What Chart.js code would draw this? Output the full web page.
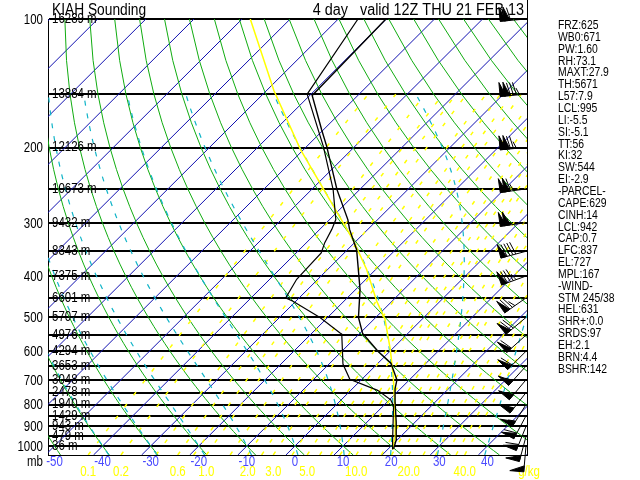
<!DOCTYPE html>
<html>
<head>
<meta charset="utf-8">
<script src="https://cdn.jsdelivr.net/npm/chart.js@4.4.1/dist/chart.umd.min.js"></script>
<style>
  body { margin: 0; background: #fff; }
  canvas { display: block; }
</style>
</head>
<body>
<canvas id="skewT" width="640" height="480"></canvas>
<script>
// sounding levels (mb) and their heights
const levels = [100, 150, 200, 250, 300, 350, 400, 450, 500, 550, 600, 650, 700, 750, 800, 850, 900, 950, 1000];
const heights = [16289, 13884, 12126, 10673, 9432, 8343, 7375, 6601, 5707, 4976, 4294, 3653, 3048, 2478, 1940, 1429, 943, 479, 36];
const windDir = [265, 265, 265, 262, 262, 255, 250, 235, 230, 228, 225, 222, 220, 218, 212, 208, 202, 195, 185];
const windSpd = [110, 135, 125, 115, 105, 90, 85, 75, 70, 60, 60, 55, 55, 55, 55, 60, 60, 55, 50];

// temperature, dewpoint and parcel traces
const tempP = [1016, 965, 880, 790, 735, 700, 640, 600, 545, 500, 430, 347, 311, 295, 251, 199, 182, 151, 100];
const tempT = [21.1, 19.7, 16.1, 11.7, 8.9, 7.4, 2.7, -2.5, -9.4, -13.6, -19.1, -28.1, -33.8, -36.2, -44.7, -55.8, -60.3, -69.5, -70.1];
const dewP = [1016, 980, 805, 780, 741, 698, 643, 547, 543, 500, 458, 450, 407, 353, 334, 311, 295, 251, 199, 150, 100];
const dewT = [20.8, 19.5, 12.1, 10.3, 5.6, -2.5, -7.1, -13.6, -14.3, -21.6, -30.6, -32.8, -34.4, -34.8, -36.2, -37.5, -38.7, -45.5, -56.5, -70.8, -75.9];
const parcelP = [1016, 1000, 946, 820, 685, 593, 505, 458, 386, 329, 202, 147, 100];
const parcelT = [21.1, 20.4, 18.7, 13.1, 5.8, -0.4, -7.7, -13.2, -21.9, -30.9, -60.7, -78.5, -98.3];

// axis labels
const tempTicks = [-50, -40, -30, -20, -10, 0, 10, 20, 30, 40];
const mixRatios = [0.1, 0.2, 0.4, 0.6, 0.8, 1, 1.5, 2, 2.5, 3, 4, 5, 6, 7, 8, 9, 10, 12, 14, 16, 18, 20, 24, 28, 32, 36, 40];
const mixLabels = ["0.1", "0.2", "0.6", "1.0", "2.0", "3.0", "5.0", "10.0", "20.0", "40.0"];

const stats = ["FRZ:625", "WB0:671", "PW:1.60", "RH:73.1", "MAXT:27.9", "TH:5671", "L57:7.9", "LCL:995",
  "LI:-5.5", "SI:-5.1", "TT:56", "KI:32", "SW:544", "EI:-2.9", "-PARCEL-", "CAPE:629", "CINH:14",
  "LCL:942", "CAP:0.7", "LFC:837", "EL:727", "MPL:167", "-WIND-", "STM 245/38", "HEL:631",
  "SHR+:0.0", "SRDS:97", "EH:2.1", "BRN:4.4", "BSHR:142"];

const SKEW = 89;
const PBOT = 1050, PTOP = 100;
const FONT = '"Liberation Sans", Arial, sans-serif';

function skewX(t, p) {
  return t + SKEW * Math.log10(1000 / p);
}

function satVap(tc) {
  return 6.112 * Math.exp(17.67 * tc / (tc + 243.5));
}

function mixTemp(w, p) {
  const e = w * p / (622 + w);
  const l = Math.log(e / 6.112);
  return 243.5 * l / (17.67 - l);
}

function pressureSteps(from, to, step) {
  const out = [];
  for (let p = from; p >= to; p -= step) out.push(p);
  return out;
}

function lineSet(points, color, dash, width, order) {
  return {
    data: points, showLine: true, borderColor: color, borderWidth: width || 1,
    borderDash: dash || [], pointRadius: 0, fill: false, tension: 0, order: order
  };
}

function moistPoints(t1000) {
  // pseudo-adiabatic lapse rate, integrated away from 1000 mb
  const Rd = 287.04, Cp = 1005.7, Lv = 2.501e6, eps = 0.622;
  const rate = (tk, p) => {
    const es = satVap(tk - 273.15);
    const rs = eps * es / (p - es);
    return (Rd * tk + Lv * rs) / (p * (Cp + Lv * Lv * rs * eps / (Rd * tk * tk)));
  };
  const pts = [];
  let tk = t1000 + 273.15;
  for (let p = 1000; p < PBOT; p += 1) tk += rate(tk, p);
  for (let p = PBOT; p >= 150; p -= 1) {
    if (p % 10 === 0) pts.push({ x: skewX(tk - 273.15, p), y: p });
    tk -= rate(tk, p);
  }
  return pts;
}

const datasets = [];

for (let t = -140; t <= 50; t += 10) {
  datasets.push(lineSet([{ x: skewX(t, PBOT), y: PBOT }, { x: skewX(t, PTOP), y: PTOP }], "#1010b0", null, 1, 40));
}
for (let t = -60; t <= 170; t += 10) {
  const pts = pressureSteps(PBOT, PTOP, 25).map(p => {
    const tk = (t + 273.15) * Math.pow(p / 1000, 0.2857) - 273.15;
    return { x: skewX(tk, p), y: p };
  });
  datasets.push(lineSet(pts, "#10ac10", null, 1, 30));
}
for (let t = -40; t <= 40; t += 10) {
  datasets.push(lineSet(moistPoints(t), "#10b4c8", [5, 8], 1.2, 20));
}
mixRatios.forEach(w => {
  const pts = pressureSteps(PBOT, 150, 50).map(p => ({ x: skewX(mixTemp(w, p), p), y: p }));
  datasets.push(lineSet(pts, "#ffff00", [4, 11], 1.5, 25));
});

const toPts = (ps, ts) => ps.map((p, i) => ({ x: skewX(ts[i], p), y: p }));
datasets.push(lineSet(toPts(parcelP, parcelT), "#ffff00", null, 1.5, 3));
datasets.push(lineSet(toPts(dewP, dewT), "#000000", null, 1.2, 1));
datasets.push(lineSet(toPts(tempP, tempT), "#000000", null, 1.4, 1));

// text squeezed horizontally to mimic the narrow plotter font
function narrowText(ctx, text, x, y, align, sx) {
  ctx.save();
  ctx.translate(x, y);
  ctx.scale(sx, 1);
  ctx.textAlign = align;
  ctx.fillText(text, 0, 0);
  ctx.restore();
}

function drawBarb(ctx, x0, y0, dir, spd) {
  const rad = dir * Math.PI / 180;
  const ux = Math.sin(rad), uy = -Math.cos(rad);
  const px = -uy, py = ux;
  const L = 26;
  ctx.beginPath();
  ctx.moveTo(x0, y0);
  ctx.lineTo(x0 + ux * L, y0 + uy * L);
  ctx.stroke();
  let rem = Math.round(spd / 5) * 5;
  let pos = L;
  while (rem >= 50) {
    const bx = x0 + ux * pos, by = y0 + uy * pos;
    const cx = x0 + ux * (pos - 6), cy = y0 + uy * (pos - 6);
    ctx.beginPath();
    ctx.moveTo(bx, by);
    ctx.lineTo(bx + px * 14, by + py * 14);
    ctx.lineTo(cx, cy);
    ctx.closePath();
    ctx.fill();
    ctx.stroke();
    pos -= 4;
    rem -= 50;
  }
  if (pos < L) pos -= 2.5;
  while (rem >= 5) {
    const len = rem >= 10 ? 13 : 7;
    const bx = x0 + ux * pos, by = y0 + uy * pos;
    ctx.beginPath();
    ctx.moveTo(bx, by);
    ctx.lineTo(bx + px * len + ux * 3, by + py * len + uy * 3);
    ctx.stroke();
    pos -= 3;
    rem -= rem >= 10 ? 10 : 5;
  }
}

const decor = {
  id: "decor",
  afterDatasetsDraw(chart) {
    const ctx = chart.ctx;
    const area = chart.chartArea;
    const xs = chart.scales.x, ys = chart.scales.y;
    ctx.save();
    ctx.strokeStyle = "#000";
    ctx.lineWidth = 1;
    ctx.beginPath();
    ctx.moveTo(area.right + 0.5, 0);
    ctx.lineTo(area.right + 0.5, area.bottom);
    ctx.stroke();

    ctx.fillStyle = "#000";
    ctx.font = "14px " + FONT;
    ctx.textBaseline = "middle";
    levels.forEach((p, i) => narrowText(ctx, heights[i] + " m", area.left + 4, ys.getPixelForValue(p), "left", 0.82));
    ys.ticks.forEach(t => {
      if (t.value % 100 === 0) narrowText(ctx, String(t.value), area.left - 5, ys.getPixelForValue(t.value) + 1, "right", 0.82);
    });
    narrowText(ctx, "mb", 27, 462, "left", 0.82);

    ctx.fillStyle = "#4a4aff";
    xs.ticks.forEach(t => narrowText(ctx, String(t.value), xs.getPixelForValue(t.value), 462, "center", 0.82));

    ctx.fillStyle = "#ffff00";
    mixLabels.forEach(s => {
      const w = parseFloat(s);
      narrowText(ctx, s, xs.getPixelForValue(skewX(mixTemp(w, PBOT), PBOT)), 472, "center", 0.82);
    });
    narrowText(ctx, "g/kg", 529, 472, "center", 0.82);

    ctx.fillStyle = "#000";
    ctx.font = "16px " + FONT;
    narrowText(ctx, "KIAH Sounding", 52, 11, "left", 0.86);
    narrowText(ctx, "4 day   valid 12Z THU 21 FEB 13", 524, 11, "right", 0.9);

    ctx.font = "13px " + FONT;
    stats.forEach((s, i) => narrowText(ctx, s, 558, 25.5 + i * 11.85, "left", 0.8));

    ctx.lineWidth = 1;
    levels.forEach((p, i) => drawBarb(ctx, area.right - 1, ys.getPixelForValue(p), windDir[i], windSpd[i]));
    ctx.restore();
  }
};

new Chart(document.getElementById("skewT"), {
  type: "scatter",
  data: { datasets: datasets },
  plugins: [decor],
  options: {
    responsive: false,
    animation: false,
    layout: { padding: { top: 19, right: 113, left: 0, bottom: 0 } },
    plugins: { legend: { display: false }, tooltip: { enabled: false } },
    scales: {
      x: {
        type: "linear",
        min: -51.35,
        max: 48.23,
        afterBuildTicks: s => { s.ticks = tempTicks.map(v => ({ value: v })); },
        afterFit: s => { s.height = 25; },
        grid: { display: false, drawTicks: false },
        border: { display: true, color: "#000", width: 1 },
        ticks: { display: false }
      },
      y: {
        type: "logarithmic",
        reverse: true,
        min: PTOP,
        max: PBOT,
        afterBuildTicks: s => { s.ticks = levels.map(v => ({ value: v })); },
        afterFit: s => { s.width = 48; },
        grid: { color: "#000", lineWidth: 2, drawTicks: false },
        border: { display: true, color: "#000", width: 1 },
        ticks: { display: false }
      }
    }
  }
});
</script>
</body>
</html>
